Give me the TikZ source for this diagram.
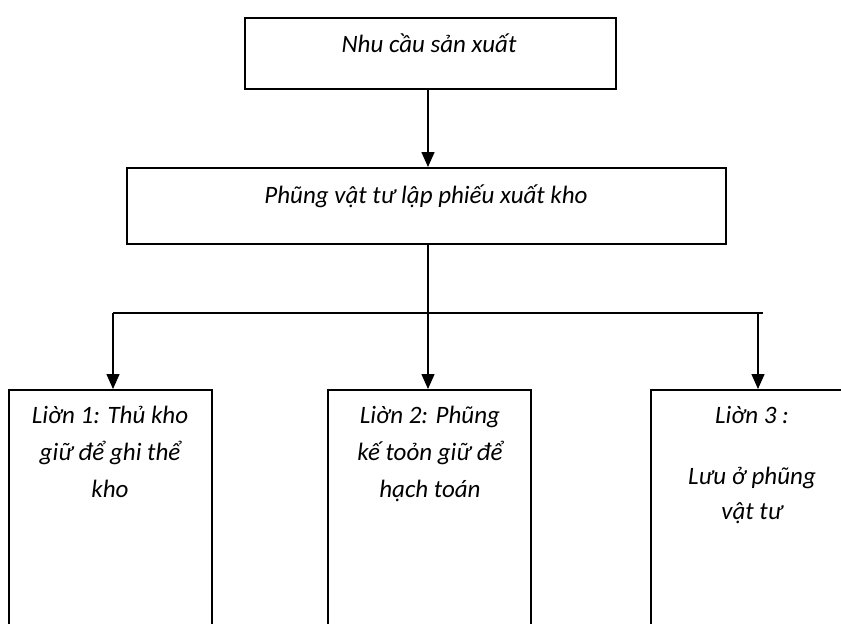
\documentclass[tikz,border=0pt]{standalone}
\usepackage{fontspec}
\setmainfont{Carlito}
\usetikzlibrary{arrows.meta}
\begin{document}
\begin{tikzpicture}[x=1pt,y=-1pt,
  box/.style={draw, line width=1.6pt, inner sep=0pt, anchor=north west},
  txt/.style={inner sep=0pt, anchor=base, font=\fontsize{25}{30}\selectfont\itshape},
  link/.style={line width=1.5pt},
  arr/.style={line width=1.5pt, -{Triangle[length=15pt,width=13pt]}}]
\useasboundingbox (0,0) rectangle (841,624);
\clip (0,0) rectangle (841,624);
% boxes
\node[box, minimum width=371pt, minimum height=71pt] (need) at (244,17) {};
\node[box, minimum width=599pt, minimum height=76pt] (dept) at (126,167) {};
\node[box, minimum width=203pt, minimum height=260pt] (c1) at (8,389) {};
\node[box, minimum width=203pt, minimum height=260pt] (c2) at (327,389) {};
\node[box, minimum width=230pt, minimum height=260pt] (c3) at (650,389) {};
% texts
\node[txt] (needtxt) at (429,52) {Nhu cầu sản xuất};
\node[txt] (depttxt) at (426,203) {Phũng vật tư lập phiếu xuất kho};
\node[txt] (c1a) at (110,423) {Liờn 1: Thủ kho};
\node[txt] (c1b) at (110,460) {giữ để ghi thể};
\node[txt] (c1c) at (110,497) {kho};
\node[txt] (c2a) at (430,423) {Liờn 2: Phũng};
\node[txt] (c2b) at (430,460) {kế toỏn giữ để};
\node[txt] (c2c) at (430,497) {hạch toán};
\node[txt] (c3a) at (752,423) {Liờn 3 :};
\node[txt] (c3b) at (752,484) {Lưu ở phũng};
\node[txt] (c3c) at (752,519) {vật tư};
% connectors
\coordinate (spine) at (428,313);
\coordinate (busL) at (113,313);
\coordinate (busR) at (763,313);
\coordinate (drop3) at (758,313);
\draw[arr] (need.south -| spine) -- (dept.north -| spine);
\draw[link] (dept.south -| spine) -- (spine);
\draw[link] (busL) -- (busR);
\draw[arr] (busL) -- (c1.north -| busL);
\draw[arr] (spine) -- (c2.north -| spine);
\draw[arr] (drop3) -- (c3.north -| drop3);
\end{tikzpicture}
\end{document}
